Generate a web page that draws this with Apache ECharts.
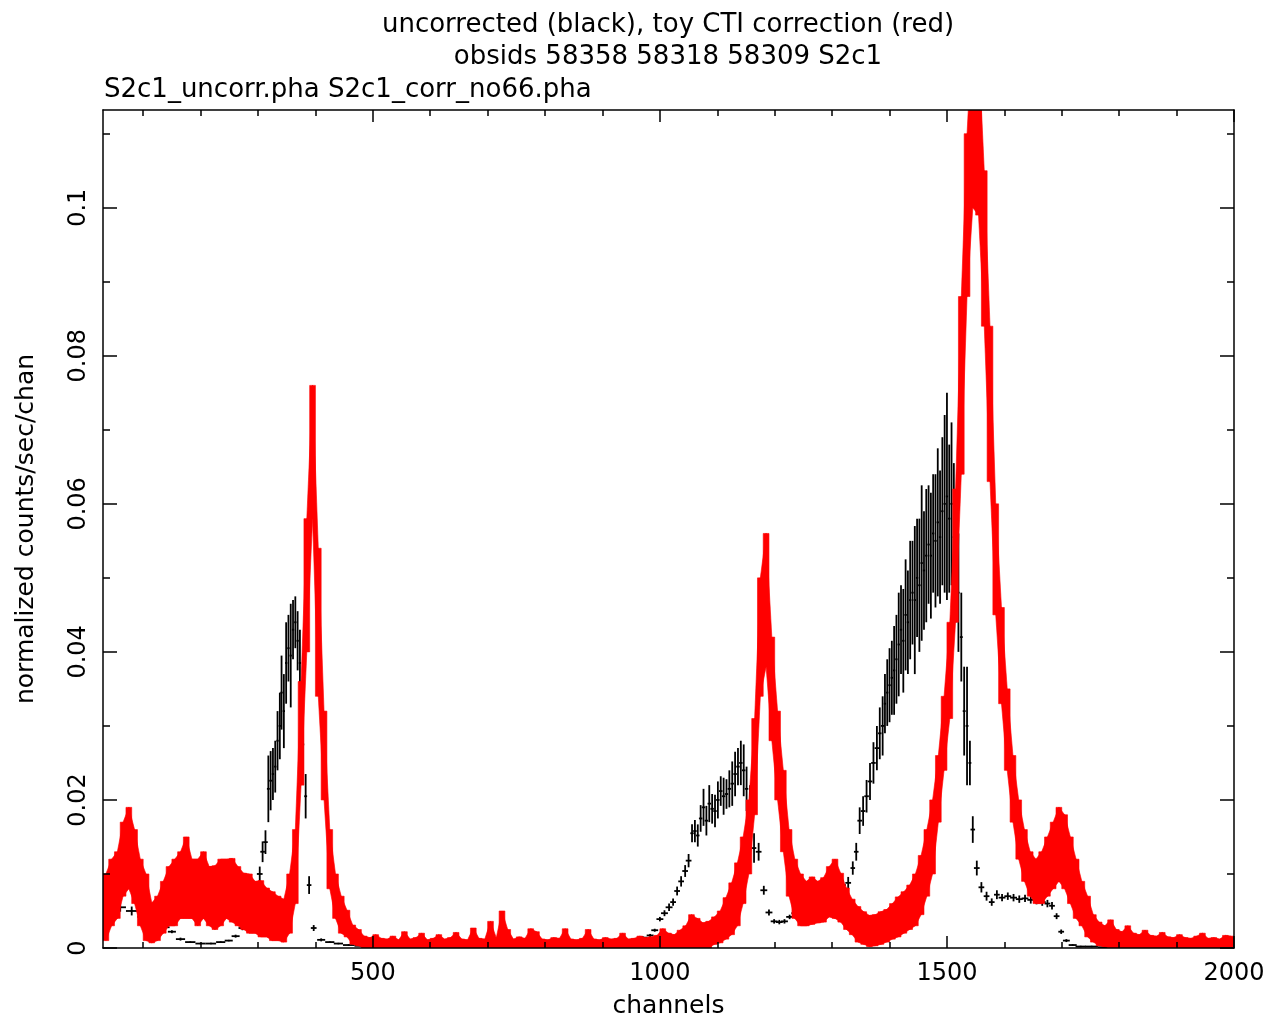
<!DOCTYPE html>
<html>
<head>
<meta charset="utf-8">
<title>S2c1 spectra</title>
<script src="https://cdn.jsdelivr.net/npm/echarts@6/dist/echarts.min.js"></script>
<style>
  html, body { margin: 0; padding: 0; background: #fff; }
  #main { width: 1272px; height: 1021px; }
</style>
</head>
<body>
<div id="main"></div>
<script>
// Uncorrected spectrum: grouped bins (centre channel, half bin width, rate, 1-sigma error)
const blackChan = [
  40,60,80,100,120,138,150,165,182,200,
  218,235,249,261,273,284,294,303,308,313,
  318,322,326,330,334,338,341,345,349,353,
  357,361,365,369,373,378,383,389,397,410,
  425,440,458,480,510,545,580,615,650,685,
  720,755,790,825,860,895,925,950,970,983,
  991,1000,1008,1016,1023,1030,1037,1044,1050,1056,
  1061,1066,1071,1076,1081,1086,1091,1096,1101,1106,
  1111,1116,1121,1126,1131,1136,1141,1146,1151,1157,
  1164,1172,1181,1190,1199,1208,1217,1226,1235,1245,
  1256,1267,1278,1289,1300,1310,1319,1328,1336,1342,
  1348,1354,1360,1366,1372,1378,1383,1388,1392,1396,
  1400,1404,1408,1412,1416,1420,1424,1428,1432,1436,
  1440,1444,1448,1452,1456,1460,1464,1468,1472,1476,
  1480,1484,1488,1492,1496,1500,1504,1508,1512,1516,
  1520,1525,1530,1535,1540,1545,1552,1560,1569,1578,
  1587,1596,1606,1616,1626,1636,1646,1656,1666,1675,
  1683,1691,1699,1708,1719,1733,1752,1775
];
const blackHalfWidth = [
  10,10,10,10,10,8,7,8,9,9,
  9,8,7,7,7,6,6,5,4,4,
  2.5,2.5,2,2,2,2,2,2,2,2,
  2,2,2,2,2,2.5,2.5,4,5,7,
  8,8,10,12,18,18,18,18,18,18,
  18,18,18,18,18,15,12,10,8,6,
  6,6,6,6,5,5,5,5,5,3,
  3,3,3,3,3,3,3,3,3,3,
  3,3,3,3,3,3,3,3,3,4,
  4,5,6,6,6,6,6,6,6,6,
  6,6,6,6,6,6,5,5,4,4,
  4,4,4,4,4,4,3,3,2,2,
  2,2,2,2,2,2,2,2,2,2,
  2,2,2,2,2,2,2,2,2,2,
  2,2,2,2,2,2,2,2,2,2,
  2,2.5,2.5,2.5,2.5,4,5,5,5,5,
  5,6,6,6,6,6,6,6,6,5,
  5,5,5,6,7,9,11,12
];
const blackRate = [
  .0050,.0055,.0050,.0042,.0035,.0028,.0022,.0012,.0008,.0006,
  .0006,.0008,.0010,.0016,.0027,.0040,.0062,.0100,.0130,.0143,
  .0215,.0226,.0235,.0245,.0280,.0300,.0345,.0320,.0385,.0405,
  .0395,.0430,.0440,.0415,.0385,.0275,.0205,.0085,.0027,.0011,
  .0008,.0006,.0004,.0003,.0002,.0002,.0002,.0002,.0002,.0002,
  .0002,.0002,.0002,.0002,.0003,.0005,.0008,.0011,.0014,.0017,
  .0024,.0039,.0047,.0055,.0062,.0077,.0090,.0104,.0118,.0155,
  .0158,.0152,.0175,.0190,.0172,.0195,.0188,.0185,.0200,.0212,
  .0205,.0208,.0215,.0222,.0235,.0245,.0250,.0240,.0215,.0190,
  .0135,.0130,.0078,.0048,.0036,.0035,.0036,.0042,.0047,.0052,
  .0055,.0058,.0062,.0066,.0071,.0078,.0085,.0088,.0108,.0130,
  .0172,.0185,.0205,.0225,.0250,.0270,.0290,.0300,.0330,.0345,
  .0355,.0365,.0375,.0390,.0410,.0430,.0415,.0450,.0440,.0470,
  .0480,.0470,.0500,.0490,.0520,.0510,.0530,.0545,.0530,.0560,
  .0550,.0575,.0555,.0590,.0600,.0610,.0580,.0600,.0555,.0530,
  .0480,.0420,.0320,.0300,.0250,.0160,.0108,.0082,.0070,.0062,
  .0072,.0068,.0070,.0068,.0066,.0067,.0065,.0064,.0062,.0060,
  .0057,.0043,.0022,.0010,.0004,.0002,.0002,.0001
];
const blackErr = [
  .0006,.0006,.0006,.0005,.0004,.0003,.0002,.0002,.0001,.0001,
  .0001,.0001,.0001,.0002,.0003,.0004,.0006,.0010,.0014,.0016,
  .0045,.0040,.0035,.0035,.0040,.0045,.0050,.0050,.0055,.0045,
  .0070,.0040,.0035,.0040,.0045,.0040,.0030,.0012,.0004,.0002,
  .0001,.0001,.0001,.0001,.0001,.0001,.0001,.0001,.0001,.0001,
  .0001,.0001,.0001,.0001,.0001,.0001,.0001,.0001,.0002,.0002,
  .0002,.0003,.0004,.0005,.0005,.0006,.0007,.0008,.0009,.0012,
  .0015,.0015,.0018,.0025,.0020,.0025,.0020,.0022,.0025,.0020,
  .0025,.0020,.0025,.0030,.0030,.0025,.0030,.0035,.0030,.0030,
  .0020,.0012,.0006,.0004,.0003,.0003,.0003,.0003,.0004,.0004,
  .0004,.0005,.0005,.0005,.0006,.0006,.0007,.0008,.0009,.0012,
  .0018,.0020,.0022,.0025,.0028,.0030,.0035,.0040,.0040,.0045,
  .0050,.0050,.0060,.0060,.0070,.0060,.0070,.0075,.0070,.0080,
  .0070,.0100,.0080,.0090,.0105,.0080,.0090,.0080,.0085,.0080,
  .0090,.0100,.0090,.0100,.0120,.0140,.0100,.0110,.0100,.0090,
  .0080,.0060,.0060,.0080,.0030,.0018,.0010,.0007,.0006,.0005,
  .0006,.0005,.0005,.0005,.0005,.0005,.0005,.0005,.0005,.0005,
  .0005,.0004,.0003,.0002,.0001,.0001,.0001,.0001
];

// Corrected spectrum: 10-channel bins (centre channel, rate, 1-sigma error)
const redHalfWidth = 5;
const redChan = [
  35,45,55,65,75,85,95,105,115,125,135,145,155,165,175,185,195,205,215,225,
  235,245,255,265,275,285,295,305,315,325,335,345,355,365,375,385,395,405,415,425,
  435,445,455,465,475,485,495,505,515,525,535,545,555,565,575,585,595,605,615,625,
  635,645,655,665,675,685,695,705,715,725,735,745,755,765,775,785,795,805,815,825,
  835,845,855,865,875,885,895,905,915,925,935,945,955,965,975,985,995,1005,1015,1025,
  1035,1045,1055,1065,1075,1085,1095,1105,1115,1125,1135,1145,1155,1165,1175,1185,1195,1205,1215,1225,
  1235,1245,1255,1265,1275,1285,1295,1305,1315,1325,1335,1345,1355,1365,1375,1385,1395,1405,1415,1425,
  1435,1445,1455,1465,1475,1485,1495,1505,1515,1525,1535,1545,1555,1565,1575,1585,1595,1605,1615,1625,
  1635,1645,1655,1665,1675,1685,1695,1705,1715,1725,1735,1745,1755,1765,1775,1785,1795,1805,1815,1825,
  1835,1845,1855,1865,1875,1885,1895,1905,1915,1925,1935,1945,1955,1965,1975,1985,1995
];
const redRate = [
  .0055,.0075,.0085,.012,.0135,.011,.0075,.0055,.0034,.004,.0055,.007,.0075,.0085,.0095,.008,.0075,.0085,.007,.0068,
  .0075,.008,.0078,.007,.0063,.006,.0055,.0053,.0048,.0043,.004,.0037,.006,.011,.029,.049,.067,.044,.026,.012,
  .007,.0045,.0033,.0018,.0014,.0008,.0007,.0009,.00065,.0006,.0008,.00055,.0011,.0006,.0007,.001,.00055,.00065,.0009,.0006,
  .0007,.00105,.0006,.00055,.00135,.00065,.0006,.0018,.0007,.0025,.00125,.0006,.00075,.00065,.0013,.0011,.0006,.00055,.0007,.00065,
  .0013,.0006,.00055,.00065,.00125,.0006,.00055,.0007,.0006,.00065,.001,.0006,.00065,.0008,.0007,.00075,.00085,.0013,.001,.0009,
  .0012,.0015,.00225,.002,.0017,.0018,.00235,.00285,.004,.0053,.00725,.0105,.015,.0245,.042,.047,.035,.026,.0185,.0115,
  .008,.0065,.006,.0064,.0062,.0065,.0076,.008,.0068,.0053,.0042,.0032,.0027,.0023,.0024,.0027,.003,.0036,.0042,.0048,
  .0055,.0065,.0085,.0115,.015,.0215,.029,.0375,.053,.076,.099,.1125,.1105,.0945,.0735,.0525,.0395,.0295,.0215,.016,
  .0125,.010,.009,.0095,.011,.0125,.014,.013,.0105,.008,.006,.00425,.00265,.0019,.0016,.0019,.00125,.0011,.0015,.001,
  .0009,.0012,.00085,.0008,.00105,.00075,.0007,.0009,.0007,.00065,.0008,.001,.00065,.0007,.0006,.00085,.0008
];
const redErr = [
  .0045,.0045,.0045,.005,.0055,.005,.0045,.0045,.0027,.003,.0035,.004,.0045,.0045,.0055,.004,.0045,.0045,.004,.0043,
  .0045,.004,.0043,.004,.0038,.004,.0035,.0038,.0033,.0033,.003,.0029,.004,.005,.007,.009,.009,.010,.006,.004,
  .003,.0025,.0018,.0013,.0011,.0008,.0007,.0009,.00065,.0006,.0008,.00055,.0011,.0006,.0007,.001,.00055,.00065,.0009,.0006,
  .0007,.00105,.0006,.00055,.00135,.00065,.0006,.0018,.0007,.0025,.00125,.0006,.00075,.00065,.0013,.0011,.0006,.00055,.0007,.00065,
  .0013,.0006,.00055,.00065,.00125,.0006,.00055,.0007,.0006,.00065,.001,.0006,.00065,.0008,.0007,.00075,.00085,.0013,.001,.0009,
  .0012,.0015,.00225,.002,.0017,.0018,.00185,.00215,.0028,.0035,.00425,.0045,.005,.0065,.008,.009,.007,.006,.0055,.0045,
  .004,.0035,.003,.0032,.0028,.003,.0034,.004,.0033,.0028,.0024,.0024,.0022,.0021,.0021,.0022,.0022,.0024,.0027,.0028,
  .003,.0035,.004,.0045,.005,.0045,.005,.0065,.009,.012,.011,.0125,.0115,.0105,.0105,.0075,.0065,.0055,.0045,.004,
  .0035,.003,.003,.0035,.004,.0045,.005,.005,.0045,.004,.003,.00275,.00185,.0016,.0014,.0019,.00125,.0011,.0015,.001,
  .0009,.0012,.00085,.0008,.00105,.00075,.0007,.0009,.0007,.00065,.0008,.001,.00065,.0007,.0006,.00085,.0008
];

// Axis ticks and labels
const xMajorTicks = [500, 1000, 1500, 2000];
const xMinorTicks = [100,200,300,400,600,700,800,900,1100,1200,1300,1400,1600,1700,1800,1900];
const yMajorTicks = [0, 0.02, 0.04, 0.06, 0.08, 0.1];
const yMinorTicks = [0.01, 0.03, 0.05, 0.07, 0.09, 0.11];
const xRange = [30, 2000];
const yRange = [0, 0.1132];

const FONT = '"DejaVu Sans", "Liberation Sans", sans-serif';
const INK = '#000';
const RED = '#ff0000';

function frameAxis(kind, position, ticks, len, withLine, labels, extra) {
  const range = kind === 'x' ? xRange : yRange;
  return Object.assign({
    type: 'value',
    position: position,
    min: range[0],
    max: range[1],
    z: 10,
    splitLine: { show: false },
    axisLine: { show: withLine, onZero: false, lineStyle: { color: INK, width: 1.5 } },
    axisTick: { show: true, inside: true, length: len, customValues: ticks,
                lineStyle: { color: INK, width: 1.5 } },
    axisLabel: labels ? Object.assign({ show: true, customValues: labels.values, color: INK,
                fontFamily: FONT, fontSize: 24 }, labels.style) : { show: false }
  }, extra || {});
}

const chart = echarts.init(document.getElementById('main'));

const xLabelCfg = { values: xMajorTicks, style: { margin: 14, formatter: v => String(v) } };
const yLabelCfg = { values: yMajorTicks, style: { rotate: 90, margin: 12, formatter: v => String(+v.toFixed(2)) } };

// lower / upper edge of a corrected bin's error bar
const redLo = i => Math.max(redRate[i] - redErr[i], 0);
const redHi = i => redRate[i] + redErr[i];

chart.setOption({
  animation: false,
  backgroundColor: '#fff',
  grid: { left: 103, right: 38, top: 110, bottom: 73, containLabel: false, outerBoundsMode: 'none' },
  graphic: [
    { type: 'text', x: 668, y: 25, z: 20,
      style: { text: 'uncorrected (black), toy CTI correction (red)', fontFamily: FONT,
               fontSize: 26, fill: INK, align: 'center', verticalAlign: 'middle' } },
    { type: 'text', x: 668, y: 57, z: 20,
      style: { text: 'obsids 58358 58318 58309 S2c1', fontFamily: FONT,
               fontSize: 26, fill: INK, align: 'center', verticalAlign: 'middle' } },
    { type: 'text', x: 104, y: 90, z: 20,
      style: { text: 'S2c1_uncorr.pha S2c1_corr_no66.pha', fontFamily: FONT,
               fontSize: 26, fill: INK, align: 'left', verticalAlign: 'middle' } }
  ],
  xAxis: [
    frameAxis('x', 'bottom', xMajorTicks, 12, true, xLabelCfg, {
      name: 'channels', nameLocation: 'middle', nameGap: 46,
      nameTextStyle: { color: INK, fontFamily: FONT, fontSize: 25 }
    }),
    frameAxis('x', 'bottom', xMinorTicks, 6, false, null),
    frameAxis('x', 'top', xMajorTicks, 12, true, null),
    frameAxis('x', 'top', xMinorTicks, 6, false, null)
  ],
  yAxis: [
    frameAxis('y', 'left', yMajorTicks, 14, true, yLabelCfg, {
      name: 'normalized counts/sec/chan', nameLocation: 'middle', nameGap: 64, nameRotate: 90,
      nameTextStyle: { color: INK, fontFamily: FONT, fontSize: 25 }
    }),
    frameAxis('y', 'left', yMinorTicks, 7, false, null),
    frameAxis('y', 'right', yMajorTicks, 14, true, null),
    frameAxis('y', 'right', yMinorTicks, 7, false, null)
  ],
  series: [
    {
      name: 'uncorrected',
      type: 'custom',
      xAxisIndex: 0, yAxisIndex: 0,
      clip: true,
      z: 2,
      data: blackChan.map((c, i) => [c, blackHalfWidth[i], blackRate[i], blackErr[i]]),
      encode: { x: 0, y: 2 },
      renderItem: function (params, api) {
        const c = api.value(0), h = api.value(1), r = api.value(2), e = api.value(3);
        const pL = api.coord([c - h, r]);
        const pR = api.coord([c + h, r]);
        const pT = api.coord([c, r + e]);
        const pB = api.coord([c, Math.max(r - e, 0)]);
        const st = { stroke: INK, lineWidth: 1.8 };
        return {
          type: 'group',
          children: [
            { type: 'line', shape: { x1: pL[0], y1: pL[1], x2: pR[0], y2: pR[1] }, style: st },
            { type: 'line', shape: { x1: pT[0], y1: pT[1], x2: pB[0], y2: pB[1] }, style: st }
          ]
        };
      }
    },
    {
      name: 'corrected',
      type: 'custom',
      xAxisIndex: 0, yAxisIndex: 0,
      clip: true,
      z: 3,
      data: redChan.map((c, i) => [c, redRate[i], redErr[i]]),
      encode: { x: 0, y: 1 },
      renderItem: function (params, api) {
        const i = params.dataIndex;
        const c = api.value(0);
        const children = [];
        // error bar of this bin, spread over the bin width
        const pTL = api.coord([c - redHalfWidth, redHi(i)]);
        const pBR = api.coord([c + redHalfWidth, redLo(i)]);
        children.push({
          type: 'rect',
          shape: { x: pTL[0], y: pTL[1], width: pBR[0] - pTL[0], height: pBR[1] - pTL[1] },
          style: { fill: RED, stroke: RED, lineWidth: 0.6 }
        });
        // join the error band to the next bin so the envelope stays continuous
        if (i + 1 < redChan.length) {
          const n = i + 1;
          children.push({
            type: 'polygon',
            shape: { points: [
              api.coord([c, redHi(i)]), api.coord([redChan[n], redHi(n)]),
              api.coord([redChan[n], redLo(n)]), api.coord([c, redLo(i)])
            ] },
            style: { fill: RED, stroke: RED, lineWidth: 0.6 }
          });
        }
        return { type: 'group', children: children };
      }
    }
  ]
});
</script>
</body>
</html>
